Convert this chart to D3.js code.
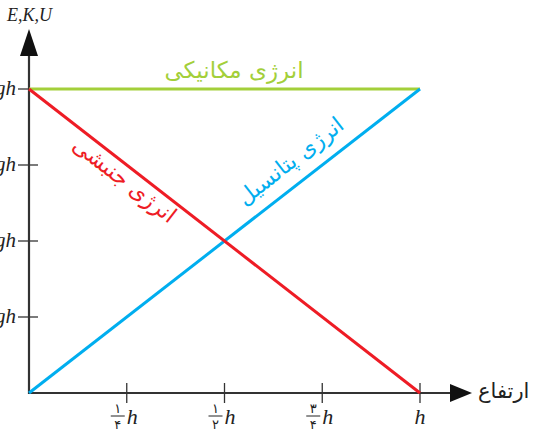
<!DOCTYPE html>
<html>
<head>
<meta charset="utf-8">
<script src="https://cdn.jsdelivr.net/npm/d3@7"></script>
<style>
body { margin: 0; background: #fff; }
svg { display: block; }
.fa { font-family: "DejaVu Sans", sans-serif; }
.lat { font-family: "Liberation Serif", serif; font-style: italic; }
</style>
</head>
<body>
<svg width="535" height="434"></svg>
<script>
// heights as a fraction of h
var heights = [0, 1];
var mechanical = [1, 1];
var kinetic = [1, 0];
var potential = [0, 1];

var xTicks = [0.25, 0.5, 0.75, 1];
var xNum = ["۱", "۱", "۳", ""];
var xDen = ["۴", "۲", "۴", ""];
var yTicks = [0.25, 0.5, 0.75, 1];
var yLabels = ["¼mgh", "½mgh", "¾mgh", "mgh"];

var svg = d3.select("svg");
var axisColor = "#333";

var xScale = d3.scaleLinear().domain([0, 1]).range([29, 420]);
var yScale = d3.scaleLinear().domain([0, 1]).range([393, 89]);

// axes
svg.append("line")
  .attr("x1", xScale(0)).attr("y1", yScale(0))
  .attr("x2", 455).attr("y2", yScale(0))
  .attr("stroke", axisColor).attr("stroke-width", 2.2);
svg.append("path")
  .attr("d", "M472," + yScale(0) + " L450," + (yScale(0) - 9) + " L450," + (yScale(0) + 9) + " Z")
  .attr("fill", "#111");

svg.append("line")
  .attr("x1", xScale(0)).attr("y1", yScale(0) + 1)
  .attr("x2", xScale(0)).attr("y2", 50)
  .attr("stroke", axisColor).attr("stroke-width", 2.2);
svg.append("path")
  .attr("d", "M" + xScale(0) + ",29 L" + (xScale(0) - 9) + ",56 L" + (xScale(0) + 9) + ",56 Z")
  .attr("fill", "#111");

// y ticks (labels are cropped at the left edge, as in the original)
svg.selectAll(".yt").data(yTicks).enter().append("line")
  .attr("x1", 18).attr("x2", 38)
  .attr("y1", function(d){ return yScale(d); })
  .attr("y2", function(d){ return yScale(d); })
  .attr("stroke", axisColor).attr("stroke-width", 1.3);
svg.selectAll(".yl").data(yTicks).enter().append("text")
  .attr("class", "lat")
  .attr("x", 16)
  .attr("y", function(d){ return yScale(d) + 6; })
  .attr("text-anchor", "end")
  .attr("font-size", 21)
  .attr("fill", "#222")
  .text(function(d, i){ return yLabels[i]; });

// x ticks
svg.selectAll(".xt").data(xTicks).enter().append("line")
  .attr("x1", function(d){ return xScale(d); })
  .attr("x2", function(d){ return xScale(d); })
  .attr("y1", 383).attr("y2", 403)
  .attr("stroke", axisColor).attr("stroke-width", 1.3);

var xg = svg.selectAll(".xg").data(xTicks).enter().append("g")
  .attr("transform", function(d){ return "translate(" + xScale(d) + ",0)"; });
xg.append("text")
  .attr("class", "lat")
  .attr("x", 0)
  .attr("y", 424)
  .attr("text-anchor", function(d, i){ return xNum[i] ? "start" : "middle"; })
  .attr("font-size", 22)
  .attr("fill", "#222")
  .text("h");
xg.filter(function(d, i){ return xNum[i] !== ""; }).each(function(d){
  var i = xTicks.indexOf(d);
  var g = d3.select(this);
  g.append("text").attr("class", "fa")
    .attr("x", -9).attr("y", 413).attr("text-anchor", "middle")
    .attr("font-size", 13).attr("fill", "#222").text(xNum[i]);
  g.append("line")
    .attr("x1", -16).attr("x2", -2).attr("y1", 416).attr("y2", 416)
    .attr("stroke", "#222").attr("stroke-width", 1);
  g.append("text").attr("class", "fa")
    .attr("x", -9).attr("y", 429).attr("text-anchor", "middle")
    .attr("font-size", 13).attr("fill", "#222").text(xDen[i]);
});

// axis titles
svg.append("text").attr("class", "lat")
  .attr("x", 7).attr("y", 21)
  .attr("font-size", 18).attr("fill", "#222")
  .text("E,K,U");
svg.append("text").attr("class", "fa")
  .attr("x", 478).attr("y", 398)
  .attr("text-anchor", "start")
  .attr("font-size", 21).attr("fill", "#222")
  .text("ارتفاع");

// energy lines
var line = d3.line()
  .x(function(d){ return xScale(d[0]); })
  .y(function(d){ return yScale(d[1]); });
var series = [
  { name: "mech", values: mechanical, color: "#a3cf3a" },
  { name: "pot", values: potential, color: "#00aeef" },
  { name: "kin", values: kinetic, color: "#ee1c25" }
];
series.forEach(function(s){
  svg.append("path")
    .datum(heights.map(function(h, i){ return [h, s.values[i]]; }))
    .attr("fill", "none")
    .attr("stroke", s.color)
    .attr("stroke-width", 3)
    .attr("d", line);
});

var angle = Math.atan2(yScale(0) - yScale(1), xScale(1) - xScale(0)) * 180 / Math.PI;

svg.append("text").attr("class", "fa")
  .attr("x", 234).attr("y", 78)
  .attr("text-anchor", "middle")
  .attr("font-size", 23).attr("fill", "#a3cf3a")
  .text("انرژی مکانیکی");

svg.append("text").attr("class", "fa")
  .attr("transform", "translate(120,186) rotate(" + angle + ")")
  .attr("text-anchor", "middle")
  .attr("font-size", 22).attr("fill", "#ee1c25")
  .text("انرژی جنبشی");

svg.append("text").attr("class", "fa")
  .attr("transform", "translate(295,167) rotate(" + (-angle) + ")")
  .attr("text-anchor", "middle")
  .attr("font-size", 22).attr("fill", "#00aeef")
  .text("انرژی پتانسیل");
</script>
</body>
</html>
